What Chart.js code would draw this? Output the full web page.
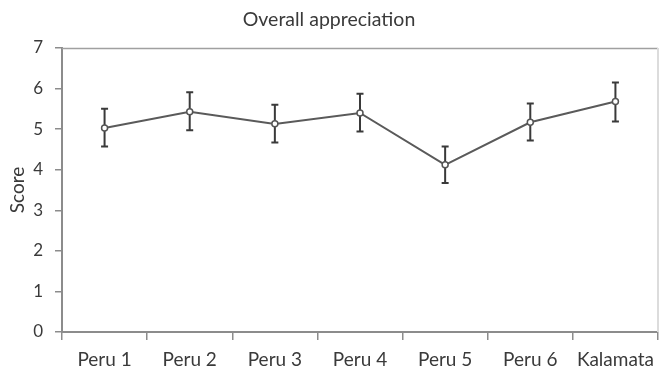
<!DOCTYPE html>
<html>
<head>
<meta charset="utf-8">
<script src="https://cdn.jsdelivr.net/npm/chart.js@4"></script>
<style>
  html, body { margin: 0; padding: 0; background: #fff; }
  #wrap { width: 667px; height: 372px; }
</style>
</head>
<body>
<div id="wrap"><canvas id="chart"></canvas></div>
<script>
const categories = ['Peru 1', 'Peru 2', 'Peru 3', 'Peru 4', 'Peru 5', 'Peru 6', 'Kalamata'];
const scores = [5.03, 5.43, 5.13, 5.40, 4.12, 5.17, 5.68];
const errUpper = [5.50, 5.91, 5.60, 5.87, 4.57, 5.63, 6.15];
const errLower = [4.57, 4.97, 4.67, 4.94, 3.67, 4.72, 5.19];
const yTicks = [0, 1, 2, 3, 4, 5, 6, 7];

const textColor = '#3a3a3a';
const axisColor = '#8c8c8c';
const fontFamily = "Lato, sans-serif";

// frame on top/right + error bars, drawn from the scales
const errorBars = {
    id: 'errorBars',
    beforeDatasetsDraw(chart) {
        const { ctx, chartArea: a } = chart;
        ctx.save();
        ctx.lineWidth = 1.5;
        ctx.strokeStyle = '#a0a0a0';
        ctx.beginPath();
        ctx.moveTo(a.left, a.top + 0.5);
        ctx.lineTo(a.right, a.top + 0.5);
        ctx.stroke();
        ctx.strokeStyle = '#dcdcdc';
        ctx.lineWidth = 2;
        ctx.beginPath();
        ctx.moveTo(a.right, a.top);
        ctx.lineTo(a.right, a.bottom);
        ctx.stroke();

        const x = chart.scales.x;
        const y = chart.scales.y;
        ctx.strokeStyle = '#3a3a3a';
        ctx.lineWidth = 2;
        categories.forEach((c, i) => {
            const px = x.getPixelForValue(i);
            const top = y.getPixelForValue(errUpper[i]);
            const bot = y.getPixelForValue(errLower[i]);
            ctx.beginPath();
            ctx.moveTo(px, top);
            ctx.lineTo(px, bot);
            ctx.moveTo(px - 3.5, top);
            ctx.lineTo(px + 3.5, top);
            ctx.moveTo(px - 3.5, bot);
            ctx.lineTo(px + 3.5, bot);
            ctx.stroke();
        });
        ctx.restore();
    }
};

new Chart(document.getElementById('chart'), {
    type: 'line',
    data: {
        labels: categories,
        datasets: [{
            data: scores,
            borderColor: '#5a5a5a',
            borderWidth: 2,
            backgroundColor: '#ffffff',
            pointBackgroundColor: '#ffffff',
            pointBorderColor: '#555555',
            pointBorderWidth: 1.5,
            pointRadius: 3,
            tension: 0
        }]
    },
    options: {
        responsive: true,
        maintainAspectRatio: false,
        animation: false,
        layout: { padding: { left: 0, right: 9, top: 0, bottom: 0 } },
        plugins: {
            legend: { display: false },
            tooltip: { enabled: false },
            title: {
                display: true,
                text: 'Overall appreciation',
                color: textColor,
                font: { size: 19.5, family: fontFamily, weight: 'normal' },
                padding: { top: 8, bottom: 16.6 }
            }
        },
        scales: {
            x: {
                offset: true,
                grid: {
                    offset: true,
                    drawOnChartArea: false,
                    tickLength: 8,
                    color: axisColor,
                    lineWidth: 1.5
                },
                border: { color: axisColor, width: 2 },
                ticks: {
                    color: textColor,
                    font: { size: 19, family: fontFamily },
                    padding: 8,
                    maxRotation: 0,
                    autoSkip: false
                },
                afterFit(s) { s.height = 40; }
            },
            y: {
                min: 0,
                max: 7,
                afterBuildTicks(s) { s.ticks = yTicks.map(v => ({ value: v })); },
                grid: {
                    drawOnChartArea: false,
                    tickLength: 7,
                    color: axisColor,
                    lineWidth: 1.5
                },
                border: { color: axisColor, width: 2 },
                ticks: {
                    color: textColor,
                    font: { size: 17, family: fontFamily },
                    padding: 12
                },
                title: {
                    display: true,
                    text: 'Score',
                    color: textColor,
                    font: { size: 19, family: fontFamily },
                    padding: { top: 6, bottom: 0 }
                },
                afterFit(s) { s.width = 62; }
            }
        }
    },
    plugins: [errorBars]
});
</script>
</body>
</html>
